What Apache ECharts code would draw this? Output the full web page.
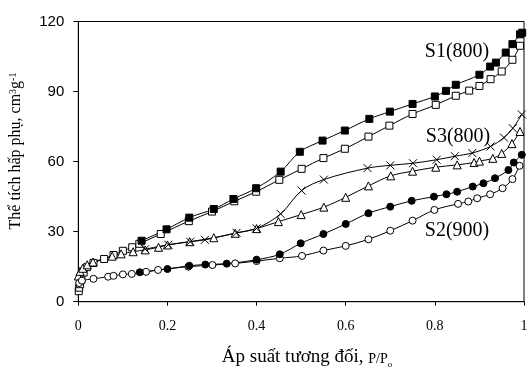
<!DOCTYPE html>
<html>
<head>
<meta charset="utf-8">
<script src="https://cdn.jsdelivr.net/npm/echarts@6/dist/echarts.min.js"></script>
<style>html,body{margin:0;padding:0;background:#fff;}#c{width:527px;height:367px;}</style>
</head>
<body>
<div id="c"></div>
<script>
// S1(800)
var s1Desorption = [[0.142,26.1],[0.198,31.0],[0.249,36.0],[0.304,39.7],[0.348,44.0],[0.399,48.6],[0.454,55.7],[0.497,64.2],[0.548,69.0],[0.598,73.3],[0.653,78.3],[0.699,81.4],[0.75,84.7],[0.80,87.9],[0.825,90.3],[0.847,92.9],[0.90,97.2],[0.924,100.7],[0.937,102.4],[0.959,106.7],[0.974,110.3],[0.991,114.5],[0.996,115.2]];
var s1Adsorption = [[0.001,4.5],[0.002,6.0],[0.004,7.5],[0.007,9.5],[0.012,12.5],[0.02,14.8],[0.034,16.6],[0.058,18.3],[0.079,20.0],[0.1,21.8],[0.121,23.3],[0.137,24.8],[0.185,29.0],[0.248,34.5],[0.3,38.6],[0.35,43.0],[0.399,47.1],[0.451,52.2],[0.501,56.9],[0.55,61.5],[0.598,65.5],[0.651,70.7],[0.698,75.4],[0.75,80.4],[0.802,84.3],[0.847,88.2],[0.877,90.4],[0.9,92.4],[0.925,95.3],[0.95,98.6],[0.974,103.6],[0.991,109.6]];
// S3(800)
var s3Desorption = [[0.15,22.5],[0.202,24.4],[0.251,25.7],[0.284,26.5],[0.355,29.5],[0.4,31.4],[0.454,37.6],[0.501,47.6],[0.551,52.3],[0.649,57.2],[0.7,58.4],[0.751,59.3],[0.804,60.8],[0.845,62.3],[0.884,63.7],[0.925,66.5],[0.955,70.3],[0.975,74.3],[0.995,80.2]];
var s3Adsorption = [[0.0,11.0],[0.004,13.0],[0.01,14.3],[0.02,15.8],[0.033,17.0],[0.076,19.5],[0.096,20.5],[0.123,21.4],[0.15,22.2],[0.18,23.3],[0.2,24.3],[0.25,25.7],[0.304,27.4],[0.352,29.3],[0.4,31.3],[0.449,34.3],[0.5,37.3],[0.551,40.5],[0.6,44.7],[0.651,49.6],[0.701,53.9],[0.75,55.9],[0.802,57.6],[0.85,58.6],[0.888,59.6],[0.9,60.2],[0.93,61.4],[0.95,63.5],[0.973,67.7],[0.991,72.9]];
// S2(900)
var s2Desorption = [[0.138,12.6],[0.2,14.0],[0.249,15.4],[0.285,15.9],[0.333,16.3],[0.4,18.0],[0.452,20.3],[0.499,25.0],[0.55,29.0],[0.6,33.3],[0.651,37.9],[0.7,40.7],[0.748,43.2],[0.798,45.0],[0.826,46.0],[0.85,47.1],[0.885,49.3],[0.909,50.7],[0.935,52.9],[0.965,56.4],[0.977,59.6],[0.995,62.9]];
var s2Adsorption = [[0.002,8.0],[0.008,9.0],[0.034,9.8],[0.067,10.7],[0.079,11.1],[0.1,11.7],[0.12,11.9],[0.152,12.8],[0.179,13.6],[0.247,15.0],[0.301,15.7],[0.352,16.4],[0.4,17.4],[0.452,18.6],[0.502,19.6],[0.55,21.9],[0.6,23.9],[0.651,26.7],[0.7,30.4],[0.75,34.7],[0.799,39.3],[0.852,41.9],[0.875,42.9],[0.895,44.3],[0.924,46.0],[0.952,48.6],[0.974,52.5],[0.99,58.2]];

var xTicks = {min: 0, max: 1, interval: 0.2};
var yTicks = {min: 0, max: 120, interval: 30};
var seriesLabels = ['S1(800)', 'S3(800)', 'S2(900)'];

var chart = echarts.init(document.getElementById('c'), null, {renderer: 'canvas'});

function mk(name, data, symbol, size, fill) {
  return {
    name: name, type: 'line', data: data, smooth: 0.35,
    symbol: symbol, symbolSize: size, showSymbol: true,
    lineStyle: {color: '#000', width: 1},
    itemStyle: {color: fill, borderColor: '#000', borderWidth: 1},
    emphasis: {disabled: true},
    animation: false
  };
}
var crossPath = 'path://M0,0L10,10M10,0L0,10';

chart.setOption({
  animation: false,
  backgroundColor: '#fff',
  grid: {left: 78.3, top: 21.5, width: 445.7, height: 280.2, show: true, borderColor: '#000', borderWidth: 1, containLabel: false, outerBoundsMode: 'none'},
  xAxis: {
    type: 'value', min: xTicks.min, max: xTicks.max, interval: xTicks.interval,
    axisLine: {show: true, lineStyle: {color: '#000', width: 1}},
    axisTick: {show: true, inside: false, length: 4, lineStyle: {color: '#000'}},
    axisLabel: {color: '#000', fontFamily: 'Liberation Serif', fontSize: 14, margin: 18, hideOverlap: false, showMinLabel: true, showMaxLabel: true},
    splitLine: {show: false}
  },
  yAxis: {
    type: 'value', min: yTicks.min, max: yTicks.max, interval: yTicks.interval,
    axisLine: {show: true, lineStyle: {color: '#000', width: 1}},
    axisTick: {show: true, inside: false, length: 5, lineStyle: {color: '#000'}},
    axisLabel: {color: '#000', fontFamily: 'Liberation Sans', fontSize: 15, margin: 14, hideOverlap: false, showMinLabel: true, showMaxLabel: true},
    splitLine: {show: false}
  },
  series: [
    mk('S1 ads', s1Adsorption, 'rect', 7, '#fff'),
    mk('S1 des', s1Desorption, 'rect', 7, '#000'),
    mk('S3 ads', s3Adsorption, 'triangle', 8, '#fff'),
    mk('S3 des', s3Desorption, crossPath, 8, 'none'),
    mk('S2 ads', s2Adsorption, 'circle', 7, '#fff'),
    mk('S2 des', s2Desorption, 'circle', 7, '#000')
  ],
  graphic: [
    {type: 'text', x: 457, y: 52, style: {text: seriesLabels[0], fill: '#000', font: '20px "Liberation Serif"', align: 'center', verticalAlign: 'middle'}},
    {type: 'text', x: 458, y: 137, style: {text: seriesLabels[1], fill: '#000', font: '20px "Liberation Serif"', align: 'center', verticalAlign: 'middle'}},
    {type: 'text', x: 457, y: 231, style: {text: seriesLabels[2], fill: '#000', font: '20px "Liberation Serif"', align: 'center', verticalAlign: 'middle'}},
    {type: 'text', x: 307, y: 357, style: {
      text: '{a|Áp suất tương đối, }{b|P/P}{c|o}', align: 'center', verticalAlign: 'middle',
      rich: {
        a: {fontFamily: 'Liberation Serif', fontSize: 19, fill: '#000'},
        b: {fontFamily: 'Liberation Serif', fontSize: 14, fill: '#000', verticalAlign: 'bottom'},
        c: {fontFamily: 'Liberation Serif', fontSize: 9, fill: '#000', verticalAlign: 'bottom', padding: [0,0,-3,0]}
      }}},
    {type: 'text', x: 16, y: 151, rotation: Math.PI / 2, style: {
      text: '{a|Thể tích hấp phụ, cm}{s|3}{a|g}{s|-1}', align: 'center', verticalAlign: 'middle',
      rich: {
        a: {fontFamily: 'Liberation Serif', fontSize: 16, fill: '#000'},
        s: {fontFamily: 'Liberation Serif', fontSize: 10, fill: '#000', verticalAlign: 'top'}
      }}}
  ]
});
</script>
</body>
</html>
